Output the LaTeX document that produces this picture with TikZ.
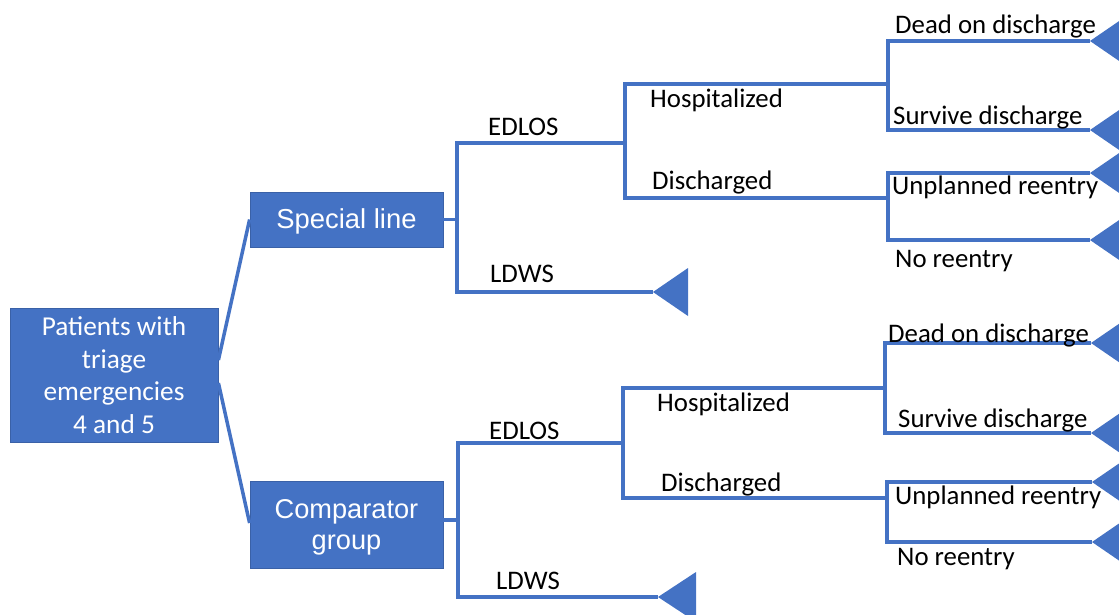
\documentclass[tikz,border=0pt]{standalone}
\usepackage{fontspec}
\newfontfamily\calib{Carlito}
\newfontfamily\arialf{Liberation Sans}
\definecolor{tblue}{HTML}{4472C4}
\begin{document}
\begin{tikzpicture}[x=1pt,y=-1pt,
  br/.style={draw=tblue,line width=3.5pt,line join=miter},
  leaf/.style={fill=tblue},
  bluebox/.style={fill=tblue,draw=tblue!85!black,line width=0.8pt,text=white,align=center,inner sep=0pt},
  lbl/.style={anchor=west,inner sep=0pt,yshift=-5pt,font=\calib\fontsize{26.8}{30}\selectfont,text height=0.644em,text depth=0pt}]
\useasboundingbox (0,0) rectangle (1119,614);
% boxes
\node[bluebox,minimum width=208pt,minimum height=134pt,font=\calib\fontsize{27.3}{32.5}\selectfont] (root) at (114,375) {Patients with\\triage\\emergencies\\4 and 5};
\node[bluebox,minimum width=193pt,minimum height=55pt,font=\arialf\fontsize{27.4}{30}\selectfont] (sp) at (346.5,219.5) {\raisebox{-2pt}[\height][\depth]{Special line}};
\node[bluebox,minimum width=193pt,minimum height=87pt,font=\arialf\fontsize{27.2}{31}\selectfont] (cg) at (346.5,524.5) {\raisebox{-3pt}[\height][\depth]{\begin{tabular}{@{}c@{}}Comparator\\group\end{tabular}}};
% root connectors
\draw[br] ([yshift=15pt]root.east) -- (sp.west);
\draw[br] ([yshift=-8pt]root.east) -- (cg.west |- 0,523);
% ---------- upper tree ----------
\coordinate (a1m) at (457,219.5);
\coordinate (a1t) at (457,143);
\coordinate (a1b) at (457,292);
\coordinate (ld1) at (653,292);
\coordinate (b1m) at (625,143);
\coordinate (b1t) at (625,84);
\coordinate (b1b) at (625,198);
\coordinate (c1m) at (888,84);
\coordinate (c1t) at (888,41);
\coordinate (c1b) at (888,130);
\coordinate (d1m) at (888,198);
\coordinate (d1t) at (888,173);
\coordinate (d1b) at (888,240);
\coordinate (t11) at (1090,41);
\coordinate (t12) at (1090,130);
\coordinate (t13) at (1090,173);
\coordinate (t14) at (1090,240);
\draw[br] (sp.east) -- (a1m);
\draw[br] (b1m) -- (a1t) -- (a1b) -- (ld1);
\draw[br] (c1m) -- (b1t) -- (b1b) -- (d1m);
\draw[br] (t11) -- (c1t) -- (c1b) -- (t12);
\draw[br] (t13) -- (d1t) -- (d1b) -- (t14);
\fill[leaf] (ld1) -- ++(35,-24) -- ++(0,48) -- cycle;
\foreach \t in {t11,t12,t13,t14}{\fill[leaf] (\t) -- ++(35,-24) -- ++(0,48) -- cycle;}
\node[lbl] (e1) at (488,127) {EDLOS};
\node[lbl] (l1) at (490,274) {LDWS};
\node[lbl] (h1) at (650,99) {Hospitalized};
\node[lbl] (s1) at (652,181) {Discharged};
\node[lbl] (dd1) at (895,25) {Dead on discharge};
\node[lbl] (sv1) at (893,116) {Survive discharge};
\node[lbl] (ur1) at (892,186) {Unplanned reentry};
\node[lbl] (nr1) at (895,259) {No reentry};
% ---------- lower tree ----------
\coordinate (a2m) at (458,520);
\coordinate (a2t) at (458,443);
\coordinate (a2b) at (458,597);
\coordinate (ld2) at (658,597);
\coordinate (b2m) at (623,443);
\coordinate (b2t) at (623,388);
\coordinate (b2b) at (623,498);
\coordinate (c2m) at (885,388);
\coordinate (c2t) at (885,343);
\coordinate (c2b) at (885,433);
\coordinate (d2m) at (887,498);
\coordinate (d2t) at (887,482);
\coordinate (d2b) at (887,542);
\coordinate (t21) at (1091,343);
\coordinate (t22) at (1091,433);
\coordinate (t23) at (1092,482);
\coordinate (t24) at (1092,542);
\draw[br] (cg.east |- a2m) -- (a2m);
\draw[br] (b2m) -- (a2t) -- (a2b) -- (ld2);
\draw[br] (c2m) -- (b2t) -- (b2b) -- (d2m);
\draw[br] (t21) -- (c2t) -- (c2b) -- (t22);
\draw[br] (t23) -- (d2t) -- (d2b) -- (t24);
\fill[leaf] (ld2) -- ++(38,-25) -- ++(0,50) -- cycle;
\foreach \t in {t21,t22,t23,t24}{\fill[leaf] (\t) -- ++(35,-24) -- ++(0,48) -- cycle;}
\node[lbl] (e2) at (489,431) {EDLOS};
\node[lbl] (l2) at (496,581) {LDWS};
\node[lbl] (h2) at (657,403) {Hospitalized};
\node[lbl] (s2) at (661,483) {Discharged};
\node[lbl] (dd2) at (888,334) {Dead on discharge};
\node[lbl] (sv2) at (898,419) {Survive discharge};
\node[lbl] (ur2) at (895,496) {Unplanned reentry};
\node[lbl] (nr2) at (897,557) {No reentry};
\end{tikzpicture}
\end{document}
